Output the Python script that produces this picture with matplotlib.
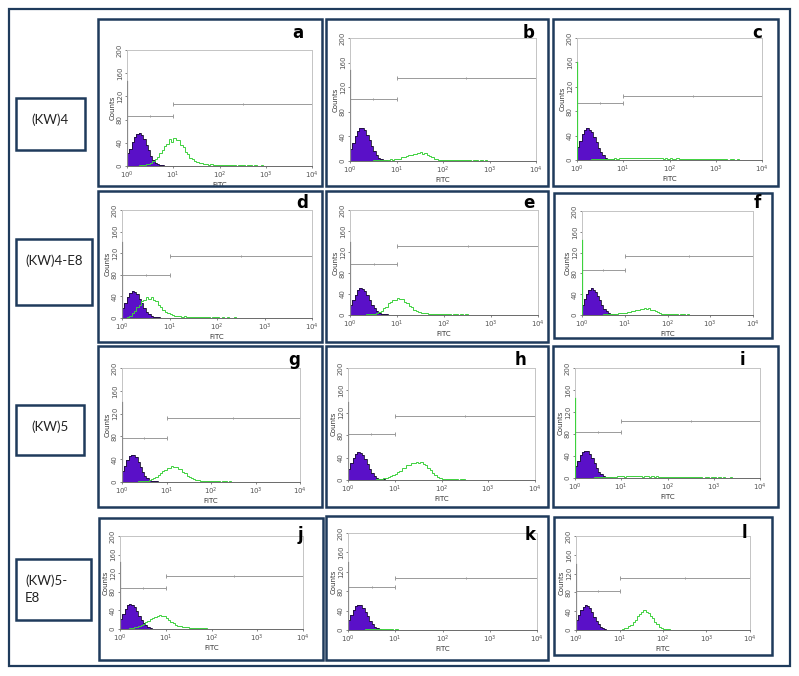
import matplotlib
matplotlib.use("Agg")
import matplotlib.pyplot as plt
from matplotlib.patches import Rectangle
import numpy as np

plt.rcParams['font.family'] = ['DejaVu Sans']

# ---- data (counts per 0.05-decade channel, from 10^0) ----
panel_letters = ['a', 'b', 'c', 'd', 'e', 'f', 'g', 'h', 'i', 'j', 'k', 'l']
row_labels = ['(KW)4', '(KW)4-E8', '(KW)5', '(KW)5-\nE8']

purple_a = [22, 30, 41, 50, 56, 57, 53, 46, 37, 27, 18, 11, 6, 3, 2, 1]
purple_b = [20, 29, 40, 49, 54, 53, 50, 43, 34, 25, 16, 10, 5, 3, 2, 1]
purple_c = [21, 31, 42, 50, 52, 50, 46, 38, 29, 20, 13, 8, 4, 2, 1, 1]
purple_d = [18, 27, 38, 46, 50, 48, 44, 36, 27, 19, 12, 7, 4, 2, 1, 1]
purple_e = [19, 28, 39, 47, 51, 50, 46, 38, 29, 20, 13, 8, 4, 2, 1, 1]
purple_f = [20, 30, 41, 49, 51, 49, 45, 37, 28, 19, 12, 7, 4, 2, 1, 1]
purple_g = [19, 28, 38, 45, 48, 47, 43, 35, 26, 18, 11, 7, 4, 2, 1, 1]
purple_h = [20, 30, 40, 47, 50, 49, 45, 37, 28, 19, 12, 7, 4, 2, 1, 1]
purple_i = [21, 31, 41, 48, 50, 49, 44, 36, 27, 18, 11, 7, 4, 2, 1, 1]
purple_j = [22, 32, 43, 51, 54, 52, 47, 39, 29, 20, 13, 8, 4, 2, 1, 1]
purple_k = [21, 31, 42, 50, 52, 51, 46, 38, 28, 19, 12, 7, 4, 2, 1, 1]
purple_l = [21, 31, 42, 50, 53, 51, 46, 38, 28, 19, 12, 7, 4, 2, 1, 1]

green_a = [0, 0, 0, 0, 0, 1, 1, 2, 3, 4,
           6, 8, 12, 15, 22, 27, 35, 38, 46, 42,
           48, 44, 45, 37, 33, 25, 21, 14, 12, 8,
           7, 5, 5, 3, 4, 2, 3, 2, 2, 1,
           2, 1, 1, 1, 2, 1, 1, 0, 1, 1,
           1, 0, 1, 1, 0, 1, 0, 0, 1, 0]
green_b = [0, 0, 0, 0, 0, 0, 0, 0, 0, 0,
           1, 1, 1, 2, 2, 1, 2, 3, 2, 3,
           4, 4, 6, 6, 8, 9, 10, 12, 11, 13,
           14, 12, 13, 10, 8, 6, 4, 3, 2, 2,
           1, 1, 2, 1, 1, 1, 1, 1, 1, 1,
           1, 1, 0, 1, 1, 0, 1, 0, 1, 0]
green_c = [0, 0, 0, 0, 0, 0, 1, 1, 1, 1,
           1, 2, 1, 2, 2, 2, 3, 2, 3, 3,
           3, 3, 4, 3, 4, 3, 4, 4, 3, 4,
           3, 4, 3, 3, 4, 3, 3, 2, 3, 2,
           3, 2, 2, 3, 2, 2, 2, 2, 1, 2,
           2, 1, 2, 1, 1, 2, 1, 1, 1, 1,
           1, 1, 1, 1, 1, 0, 1, 1, 0, 1]
green_d = [0, 0, 2, 4, 9, 13, 21, 25, 32, 34,
           38, 36, 39, 33, 31, 24, 21, 15, 12, 9,
           7, 6, 4, 4, 3, 2, 3, 2, 1, 2,
           1, 1, 1, 2, 1, 1, 1, 0, 1, 1,
           1, 0, 1, 0, 1, 0, 0, 1, 0, 0]
green_e = [0, 0, 0, 0, 0, 0, 0, 1, 1, 1,
           2, 3, 6, 8, 13, 16, 22, 24, 29, 28,
           32, 30, 30, 25, 23, 17, 15, 10, 7, 5,
           4, 3, 3, 2, 2, 1, 2, 1, 1, 1,
           1, 1, 1, 0, 1, 1, 0, 1, 0, 1]
green_f = [0, 0, 0, 0, 0, 0, 0, 0, 0, 0,
           1, 1, 1, 1, 2, 2, 2, 3, 3, 4,
           4, 5, 5, 7, 7, 9, 10, 12, 11, 14,
           12, 13, 10, 10, 7, 6, 4, 2, 2, 1,
           1, 1, 1, 1, 1, 0, 1, 1, 0, 1]
green_g = [0, 0, 0, 0, 0, 0, 0, 1, 1, 1,
           1, 2, 3, 5, 7, 9, 13, 15, 19, 21,
           25, 24, 28, 26, 27, 23, 22, 17, 15, 11,
           8, 7, 5, 4, 3, 2, 2, 2, 1, 1,
           1, 1, 1, 1, 0, 1, 1, 0, 1, 0]
green_h = [0, 0, 0, 0, 0, 0, 0, 0, 0, 0,
           0, 0, 1, 1, 2, 3, 4, 5, 7, 9,
           11, 14, 16, 21, 22, 27, 27, 31, 30, 33,
           31, 32, 28, 27, 21, 18, 12, 9, 5, 3,
           2, 2, 1, 1, 1, 1, 1, 0, 1, 1]
green_i = [0, 0, 0, 0, 0, 0, 0, 0, 1, 1,
           1, 1, 1, 2, 2, 2, 2, 2, 3, 3,
           3, 2, 3, 3, 3, 4, 3, 3, 3, 2,
           3, 3, 2, 3, 2, 3, 2, 2, 2, 2,
           2, 2, 2, 2, 1, 2, 1, 1, 1, 1,
           1, 1, 1, 1, 1, 0, 1, 1, 0, 1,
           1, 0, 1, 0, 1, 0, 0, 1, 0, 0]
green_j = [0, 0, 0, 1, 2, 3, 4, 5, 6, 8,
           11, 14, 17, 21, 23, 26, 27, 30, 28, 27,
           24, 20, 16, 12, 9, 7, 6, 5, 4, 4,
           3, 3, 3, 2, 2, 2, 2, 2, 1, 1,
           1, 1, 1, 1, 1, 1, 0, 1, 1, 0]
green_k = [0, 0, 0, 0, 1, 1, 1, 2, 2, 2,
           2, 2, 2, 3, 2, 2, 2, 2, 2, 1,
           2, 1, 1, 1, 1, 1, 1, 1, 0, 1,
           1, 0, 1, 0, 1, 0, 0, 1, 0, 0]
green_l = [0, 0, 0, 0, 0, 0, 0, 0, 0, 0,
           0, 0, 0, 0, 0, 0, 0, 0, 1, 1,
           1, 2, 4, 5, 9, 11, 18, 22, 30, 33,
           39, 42, 38, 37, 30, 26, 17, 13, 7, 5,
           3, 2, 2, 1, 1, 1, 1, 0, 1, 1]

# first-channel pile-up at 10^0 (counts)
first_channel = [146, 148, 160, 140, 140, 145, 140, 140, 145, 145, 140, 140]

# gates: M1 (10^0 - 10^1) and M2 (10^1 - 10^4) heights in counts
gate_m1 = [87, 101, 93, 80, 97, 86, 77, 82, 84, 89, 89, 82]
gate_m2 = [107, 135, 105, 115, 131, 114, 112, 114, 104, 114, 107, 110]

purples = [purple_a, purple_b, purple_c, purple_d, purple_e, purple_f,
           purple_g, purple_h, purple_i, purple_j, purple_k, purple_l]
greens = [green_a, green_b, green_c, green_d, green_e, green_f,
          green_g, green_h, green_i, green_j, green_k, green_l]

# ---- layout in picture pixels ----
W, H = 799, 676
NAVY = '#1f3b5c'
PURPLE = '#5a10c8'
GREEN = '#3dd13d'
GATE = '#9a9a9a'

panel_boxes = [(98, 19, 322, 186), (326, 19, 548, 186), (553, 19, 778, 186),
               (98, 191, 322, 342), (326, 191, 548, 342), (554, 193, 772, 338),
               (98, 346, 322, 507), (326, 346, 548, 507), (553, 346, 778, 507),
               (99, 518, 323, 660), (326, 516, 548, 660), (554, 517, 772, 655)]
axes_boxes = [(127, 50, 312, 166), (350, 38, 536, 161), (577, 38, 762, 160),
              (122, 210, 312, 318), (350, 210, 538, 315), (582, 211, 753, 315),
              (122, 368, 300, 482), (348, 368, 535, 480), (575, 368, 760, 478),
              (120, 536, 303, 629), (348, 533, 537, 630), (576, 536, 750, 630)]
letter_pos = [(298, 33), (529, 33), (757, 33),
              (302, 203), (529, 203), (757, 203),
              (294, 360), (520, 360), (742, 360),
              (300, 535), (530, 535), (744, 533)]
label_boxes = [(16, 98, 85, 150), (16, 239, 92, 305), (16, 405, 84, 455), (16, 559, 91, 620)]


def frac(x0, y0, x1, y1):
    return [x0 / W, 1 - y1 / H, (x1 - x0) / W, (y1 - y0) / H]


def fig_box(fig, x0, y0, x1, y1, lw):
    l, b, w, h = frac(x0, y0, x1, y1)
    fig.add_artist(Rectangle((l, b), w, h, transform=fig.transFigure,
                             fill=False, edgecolor=NAVY, linewidth=lw))


fig = plt.figure(figsize=(W / 100, H / 100), dpi=100)
fig.patch.set_facecolor('white')

# outer frame
fig_box(fig, 9, 9, 790, 666, 1.6)

# row labels
for i, lab in enumerate(row_labels):
    x0, y0, x1, y1 = label_boxes[i]
    fig_box(fig, x0, y0, x1, y1, 1.8)
    if '\n' in lab:
        fig.text((x0 + 9) / W, 1 - (y0 + 30) / H, lab, ha='left', va='center',
                 fontsize=9.5, family='Lato', color='#222222', linespacing=1.5)
    else:
        fig.text((x0 + x1) / 2 / W, 1 - (y0 + 22) / H, lab, ha='center', va='center',
                 fontsize=9.5, family='Lato', color='#222222')

edges_all = 10 ** (np.arange(81) * 0.05)

for k in range(12):
    fig_box(fig, *panel_boxes[k], 1.8)
    ax = fig.add_axes(frac(*axes_boxes[k]))

    green = np.zeros(80)
    green[:len(greens[k])] = greens[k]
    purple = np.array(purples[k], dtype=float)

    ax.stairs(purple, edges_all[:len(purple) + 1], fill=True, color=PURPLE, zorder=2)
    ax.stairs(purple, edges_all[:len(purple) + 1], color='#1a1030', linewidth=0.6, zorder=3)
    ax.stairs(green, edges_all, color=GREEN, linewidth=0.7, zorder=4)
    ax.plot([1.0, 1.0], [0, first_channel[k]], color=GREEN if k in (2, 5, 8) else '#8a8a8a',
            linewidth=0.9, zorder=5)

    # gates
    m1, m2 = gate_m1[k], gate_m2[k]
    ax.plot([1, 10], [m1, m1], color=GATE, linewidth=0.7, zorder=1)
    ax.plot([10, 1e4], [m2, m2], color=GATE, linewidth=0.7, zorder=1)
    ax.plot([1, 10, 10, 1e4], [m1, m1, m2, m2], linestyle='none', marker='|',
            markersize=3, color=GATE, markeredgewidth=0.7)
    ax.plot([10 ** 0.5, 10 ** 2.5], [m1, m2], linestyle='none', marker='|',
            markersize=1.5, color=GATE, markeredgewidth=0.7)

    ax.set_xscale('log')
    ax.set_xlim(1, 1e4)
    ax.set_ylim(0, 200)
    ax.set_xticks([1, 10, 100, 1000, 10000])
    ax.set_xticklabels(['$10^0$', '$10^1$', '$10^2$', '$10^3$', '$10^4$'])
    ax.minorticks_off()
    ax.set_yticks([0, 40, 80, 120, 160, 200])
    ax.set_yticklabels(['0', '40', '80', '120', '160', '200'], rotation=90, va='center')
    ax.tick_params(labelsize=5, length=1.5, width=0.5, colors='#555555', pad=1.5)
    for s in ax.spines.values():
        s.set_color('#c4c4c4')
        s.set_linewidth(0.7)
    ax.spines['bottom'].set_color('#6a6a6a')
    ax.set_xlabel('FITC', fontsize=5, labelpad=0.5, color='#333333')
    ax.set_ylabel('Counts', fontsize=5, labelpad=1, color='#333333')

    lx, ly = letter_pos[k]
    fig.text(lx / W, 1 - ly / H, panel_letters[k], ha='center', va='center',
             fontsize=12, fontweight='bold', color='black')

fig.savefig('out.png', dpi=100, facecolor='white')
